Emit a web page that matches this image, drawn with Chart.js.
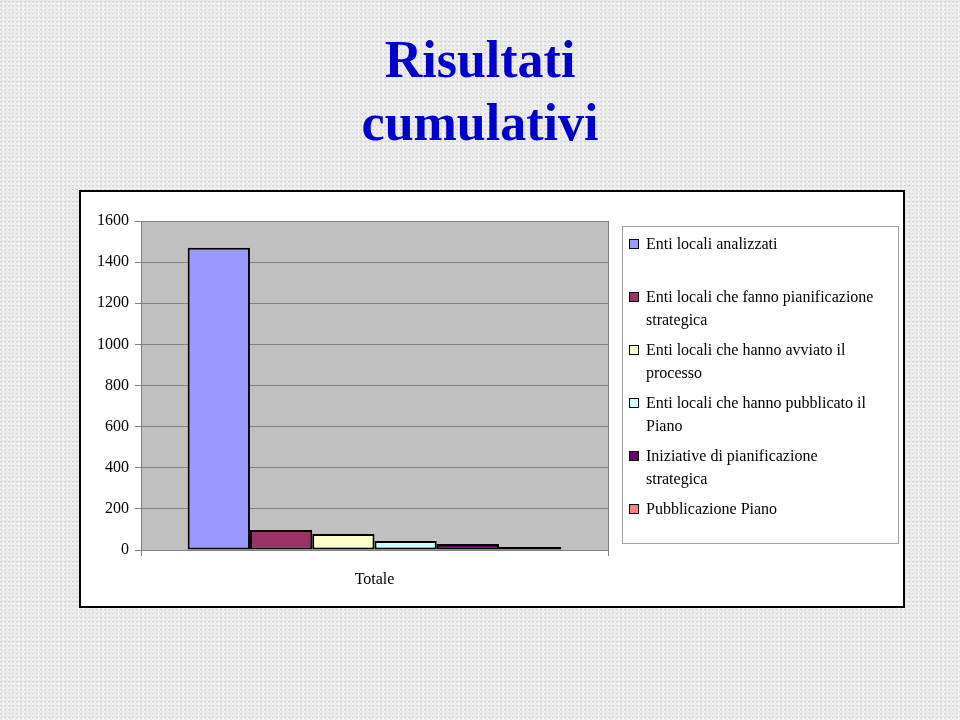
<!DOCTYPE html>
<html>
<head>
<meta charset="utf-8">
<script src="https://cdn.jsdelivr.net/npm/chart.js@4.4.1/dist/chart.umd.min.js"></script>
<style>
  html, body { margin: 0; padding: 0; }
  body {
    width: 960px; height: 720px; position: relative; overflow: hidden;
    background-color: #ebebeb;
    background-image:
      radial-gradient(circle at 30% 40%, rgba(160,160,160,0.35) 0.6px, transparent 1.2px),
      radial-gradient(circle at 70% 80%, rgba(255,255,255,0.8) 0.6px, transparent 1.2px);
    background-size: 4px 4px, 5px 5px;
  }
  #title {
    position: absolute; left: 0; top: 28px; width: 960px; text-align: center;
    font: bold 52px/63px "Liberation Serif", "Times New Roman", serif; color: #0000cc;
  }
  #box {
    position: absolute; left: 79px; top: 190px; width: 822px; height: 414px;
    background: #fff; border: 2px solid #000;
  }
  #chartWrap { position: absolute; left: 0; top: 0; width: 822px; height: 414px; }
  #legend {
    position: absolute; left: 541px; top: 34px; width: 277px; height: 318px;
    border: 1px solid #a0a0a0; box-sizing: border-box; padding-top: 5px;
    font: 16px/23px "Liberation Serif", "Times New Roman", serif; color: #000;
  }
  .item { display: flex; height: 53px; }
  .swatch {
    width: 8px; height: 8px; border: 1px solid #000; margin: 7px 7px 0 6px; flex: none;
  }
  .text { white-space: nowrap; }
</style>
</head>
<body>
<div id="title">Risultati<br>cumulativi</div>
<div id="box">
  <div id="chartWrap"><canvas id="chart"></canvas></div>
  <div id="legend"></div>
</div>
<script>
// categories, series and values
const categories = ['Totale'];
const seriesNames = [
    ['Enti locali analizzati'],
    ['Enti locali che fanno pianificazione', 'strategica'],
    ['Enti locali che hanno avviato il', 'processo'],
    ['Enti locali che hanno pubblicato il', 'Piano'],
    ['Iniziative di pianificazione', 'strategica'],
    ['Pubblicazione Piano'],
];
const seriesValues = [1470, 97, 78, 44, 29, 15];
const seriesColors = ['#9999ff', '#993366', '#ffffcc', '#ccffff', '#660066', '#ff8080'];
const yTicks = [0, 200, 400, 600, 800, 1000, 1200, 1400, 1600];

const FONT = { family: "'Liberation Serif', 'Times New Roman', serif", size: 16 };

// gray plot background, like the old spreadsheet chart
const plotBackground = {
    id: 'plotBackground',
    beforeDraw(chart) {
        const { ctx, chartArea: a } = chart;
        ctx.save();
        ctx.fillStyle = '#c0c0c0';
        ctx.fillRect(a.left, a.top, a.right - a.left, a.bottom - a.top);
        ctx.restore();
    }
};

new Chart(document.getElementById('chart'), {
    type: 'bar',
    data: {
        labels: categories,
        datasets: seriesNames.map((name, i) => ({
            label: name.join(' '),
            data: [seriesValues[i]],
            backgroundColor: seriesColors[i],
            borderColor: '#000',
            borderWidth: 2,
            borderSkipped: false,
            categoryPercentage: 0.8,
            barPercentage: 1.0,
        })),
    },
    plugins: [plotBackground],
    options: {
        responsive: true,
        maintainAspectRatio: false,
        animation: false,
        layout: { padding: { left: 0, top: 29, right: 295, bottom: 0 } },
        plugins: { legend: { display: false }, tooltip: { enabled: false } },
        scales: {
            x: {
                grid: { color: '#808080', lineWidth: 1, tickLength: 6, offset: true },
                border: { color: '#808080', width: 1 },
                ticks: { color: '#000', font: FONT, padding: 14 },
                afterFit(scale) { scale.height = 56; },
            },
            y: {
                min: 0, max: 1600,
                afterBuildTicks(scale) { scale.ticks = yTicks.map(v => ({ value: v })); },
                grid: { color: '#808080', lineWidth: 1, tickLength: 6 },
                border: { color: '#808080', width: 1 },
                ticks: { color: '#000', font: FONT, padding: 6, callback: v => String(v) },
                afterFit(scale) { scale.width = 60; },
            },
        },
    },
});

// legend built from the same arrays, so labels can wrap like the original
const legend = document.getElementById('legend');
seriesNames.forEach((name, i) => {
    const item = document.createElement('div');
    item.className = 'item';
    item.innerHTML = `<span class="swatch" style="background:${seriesColors[i]}"></span>
        <span class="text">${name.join('<br>')}</span>`;
    legend.appendChild(item);
});
</script>
</body>
</html>
